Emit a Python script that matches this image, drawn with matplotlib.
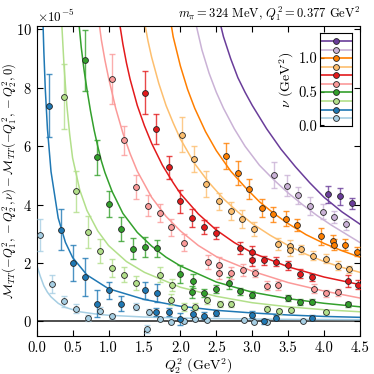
import numpy as np
import matplotlib
matplotlib.use("Agg")
import matplotlib.pyplot as plt

plt.rcParams["font.family"] = "serif"
plt.rcParams["font.serif"] = ["cmr10", "DejaVu Serif"]
plt.rcParams["mathtext.fontset"] = "cm"
plt.rcParams["axes.formatter.use_mathtext"] = True
plt.rcParams["font.size"] = 9

# nu values (GeV^2) and colours
nus = [0.108, 0.233, 0.36, 0.49, 0.61, 0.74, 0.87, 0.995, 1.12, 1.25]
colors = ["#a6cee3", "#1f78b4", "#b2df8a", "#33a02c", "#fb9a99",
          "#e31a1c", "#fdbf6f", "#ff7f00", "#cab2d6", "#6a3d9a"]

# lattice points (y in units of 1e-5)
px0 = [0.046, 0.209, 0.385, 0.553, 0.72, 0.883, 1.055, 1.386, 1.535, 1.558, 1.71, 1.875, 2.05, 2.21, 2.37, 2.88, 3.03, 3.2, 3.70]
py0 = [2.97, 1.29, 0.69, 0.44, 0.12, 0.37, 0.17, 0.51, -0.26, 0.32, 0.08, -0.01, 0.02, 0.07, 0.06, 0.06, -0.01, -0.01, 0.03]
pe0 = [0.55, 0.3, 0.18, 0.16, 0.1, 0.12, 0.1, 0.12, 0.15, 0.1, 0.08, 0.06, 0.06, 0.06, 0.05, 0.05, 0.05, 0.04, 0.04]

px1 = [0.176, 0.34, 0.51, 0.674, 0.846, 1.01, 1.175, 1.51, 1.665, 1.675, 1.835, 2.0, 2.17, 2.335, 2.50, 3.0, 3.16, 3.33, 3.83]
py1 = [7.39, 3.14, 2.0, 1.51, 0.61, 1.06, 0.61, 1.06, 0.32, 0.97, 0.32, 0.08, 0.25, 0.2, 0.29, 0.23, 0.0, 0.13, 0.13]
pe1 = [1.08, 0.7, 0.6, 0.65, 0.45, 0.3, 0.25, 0.3, 0.15, 0.3, 0.15, 0.2, 0.15, 0.12, 0.1, 0.12, 0.08, 0.08, 0.08]

px2 = [0.385, 0.55, 0.72, 0.883, 1.05, 1.22, 1.386, 1.72, 1.88, 1.875, 2.05, 2.21, 2.37, 2.55, 2.71, 3.21, 3.37, 3.54, 4.03]
py2 = [7.7, 4.45, 3.06, 2.41, 1.83, 1.6, 1.31, 1.6, 1.24, 0.75, 0.49, 0.5, 0.72, 0.6, 0.6, 0.44, 0.34, 0.39, 0.32]
pe2 = [1.1, 0.7, 0.55, 0.4, 0.3, 0.25, 0.25, 0.25, 0.2, 0.2, 0.15, 0.12, 0.12, 0.1, 0.1, 0.08, 0.08, 0.08, 0.08]

px3 = [0.674, 0.837, 1.01, 1.175, 1.34, 1.505, 1.67, 2.0, 2.18, 2.165, 2.335, 2.5, 2.67, 2.835, 3.0, 3.5, 3.665, 3.83, 4.33]
py3 = [8.94, 5.62, 4.01, 3.16, 2.49, 2.54, 2.5, 1.63, 1.38, 1.01, 0.97, 1.11, 1.32, 1.03, 0.92, 0.8, 0.66, 0.68, 0.58]
pe3 = [1.05, 0.6, 0.45, 0.4, 0.35, 0.35, 0.3, 0.3, 0.25, 0.2, 0.15, 0.15, 0.2, 0.12, 0.12, 0.1, 0.1, 0.1, 0.1]

px4 = [1.045, 1.215, 1.38, 1.55, 1.71, 1.875, 2.05, 2.38, 2.535, 2.54, 2.71, 2.875, 3.04, 3.2, 3.365, 3.865, 4.03, 4.195]
py4 = [8.3, 6.2, 4.6, 3.97, 3.71, 3.22, 2.7, 2.03, 1.94, 1.66, 1.66, 1.77, 1.66, 1.22, 1.24, 1.12, 0.96, 1.0]
pe4 = [0.85, 0.5, 0.4, 0.35, 0.3, 0.3, 0.3, 0.25, 0.25, 0.2, 0.2, 0.2, 0.15, 0.15, 0.15, 0.15, 0.12, 0.12]

px5 = [1.505, 1.665, 1.835, 2.0, 2.165, 2.335, 2.5, 2.83, 2.995, 3.0, 3.16, 3.33, 3.5, 3.67, 3.83, 4.33, 4.47]
py5 = [7.84, 6.59, 5.28, 4.11, 3.54, 3.23, 3.03, 2.51, 2.37, 2.1, 2.09, 2.05, 1.92, 1.63, 1.52, 1.39, 1.26]
pe5 = [0.72, 0.5, 0.4, 0.4, 0.3, 0.25, 0.2, 0.2, 0.2, 0.2, 0.15, 0.15, 0.15, 0.15, 0.12, 0.2, 0.15]

px6 = [2.02, 2.195, 2.36, 2.535, 2.70, 2.86, 3.02, 3.365, 3.53, 3.525, 3.685, 3.85, 4.02, 4.19, 4.35]
py6 = [6.39, 5.56, 4.7, 4.11, 3.79, 3.51, 3.16, 2.64, 2.59, 2.43, 2.47, 2.25, 2.15, 1.91, 1.79]
pe6 = [0.6, 0.45, 0.45, 0.3, 0.3, 0.3, 0.25, 0.2, 0.2, 0.2, 0.15, 0.15, 0.15, 0.15, 0.12]

px7 = [2.63, 2.80, 2.96, 3.13, 3.29, 3.47, 3.63, 3.96, 4.13, 4.135, 4.29, 4.46]
py7 = [5.67, 5.08, 4.54, 3.89, 3.67, 3.52, 3.3, 2.91, 2.75, 2.63, 2.63, 2.39]
pe7 = [0.45, 0.4, 0.35, 0.3, 0.25, 0.25, 0.2, 0.3, 0.2, 0.2, 0.2, 0.15]

px8 = [3.30, 3.48, 3.64, 3.805, 3.98, 4.14, 4.31]
py8 = [5.02, 4.65, 4.32, 3.96, 3.76, 3.57, 3.32]
pe8 = [0.45, 0.35, 0.3, 0.3, 0.25, 0.2, 0.2]

px9 = [4.055, 4.22, 4.385]
py9 = [4.35, 4.28, 4.04]
pe9 = [0.3, 0.28, 0.2]

# fitted curves
cx0 = [0.0, 0.05, 0.1, 0.15, 0.2, 0.3, 0.4, 0.6, 0.8, 1.0, 1.5, 2.0, 2.5, 3.0, 3.5, 4.0, 4.5]
cy0 = [1.94, 1.55, 1.22, 1.0, 0.84, 0.62, 0.48, 0.33, 0.26, 0.21, 0.15, 0.115, 0.095, 0.08, 0.07, 0.065, 0.06]
cx1 = [0.085, 0.1, 0.12, 0.15, 0.2, 0.3, 0.4, 0.5, 0.7, 1.0, 1.5, 2.0, 2.5, 3.0, 3.5, 4.0, 4.5]
cy1 = [10.5, 9.26, 7.97, 6.6, 5.13, 3.54, 2.71, 2.19, 1.59, 1.12, 0.75, 0.52, 0.38, 0.29, 0.22, 0.17, 0.14]
cx2 = [0.345, 0.38, 0.42, 0.46, 0.5, 0.6, 0.7, 0.85, 1.0, 1.25, 1.5, 2.0, 2.5, 3.0, 3.5, 4.0, 4.5]
cy2 = [10.4, 8.8, 7.4, 6.4, 5.6, 4.5, 3.8, 3.1, 2.6, 2.05, 1.68, 1.17, 0.86, 0.64, 0.5, 0.4, 0.33]
cx3 = [0.585, 0.62, 0.66, 0.7, 0.75, 0.8, 0.85, 0.9, 0.95, 1.05, 1.2, 1.4, 1.6, 1.8, 2.0, 2.5, 3.0, 3.5, 4.0, 4.5]
cy3 = [10.3, 9.4, 8.6, 7.95, 7.2, 6.55, 6.0, 5.5, 5.1, 4.45, 3.7, 3.05, 2.58, 2.2, 1.9, 1.35, 1.0, 0.78, 0.62, 0.5]
cx4 = [0.865, 0.9, 0.95, 1.0, 1.1, 1.2, 1.3, 1.4, 1.6, 1.8, 2.0, 2.25, 2.5, 3.0, 3.5, 4.0, 4.5]
cy4 = [10.3, 9.65, 8.95, 8.35, 7.3, 6.45, 5.75, 5.15, 4.25, 3.6, 3.1, 2.6, 2.22, 1.72, 1.33, 1.04, 0.8]
cx5 = [1.155, 1.2, 1.25, 1.3, 1.4, 1.5, 1.6, 1.75, 1.9, 2.0, 2.25, 2.5, 2.75, 3.0, 3.5, 4.0, 4.5]
cy5 = [10.2, 9.5, 8.85, 8.3, 7.4, 6.7, 6.1, 5.35, 4.75, 4.38, 3.68, 3.13, 2.7, 2.35, 1.87, 1.52, 1.26]
cx6 = [1.505, 1.55, 1.6, 1.7, 1.8, 1.9, 2.0, 2.2, 2.4, 2.6, 2.8, 3.0, 3.25, 3.5, 3.75, 4.0, 4.25, 4.5]
cy6 = [10.2, 9.6, 9.05, 8.15, 7.4, 6.8, 6.25, 5.4, 4.75, 4.2, 3.75, 3.35, 2.95, 2.6, 2.3, 2.05, 1.85, 1.68]
cx7 = [1.87, 1.9, 2.0, 2.1, 2.2, 2.35, 2.5, 2.7, 2.9, 3.1, 3.3, 3.5, 3.75, 4.0, 4.25, 4.5]
cy7 = [10.2, 9.75, 8.75, 7.95, 7.3, 6.5, 5.85, 5.15, 4.6, 4.1, 3.7, 3.35, 2.97, 2.67, 2.42, 2.2]
cx8 = [2.215, 2.3, 2.4, 2.5, 2.6, 2.75, 2.9, 3.1, 3.3, 3.5, 3.7, 3.9, 4.1, 4.3, 4.5]
cy8 = [10.2, 9.3, 8.5, 7.85, 7.3, 6.6, 6.0, 5.35, 4.85, 4.4, 4.0, 3.63, 3.3, 3.0, 2.7]
cx9 = [2.555, 2.6, 2.7, 2.8, 2.9, 3.0, 3.2, 3.4, 3.6, 3.8, 4.0, 4.25, 4.5]
cy9 = [10.2, 9.75, 9.0, 8.35, 7.85, 7.4, 6.6, 5.9, 5.3, 4.75, 4.25, 3.75, 3.33]

points = [(px0, py0, pe0), (px1, py1, pe1), (px2, py2, pe2), (px3, py3, pe3), (px4, py4, pe4),
          (px5, py5, pe5), (px6, py6, pe6), (px7, py7, pe7), (px8, py8, pe8), (px9, py9, pe9)]
curves = [(cx0, cy0), (cx1, cy1), (cx2, cy2), (cx3, cy3), (cx4, cy4),
          (cx5, cy5), (cx6, cy6), (cx7, cy7), (cx8, cy8), (cx9, cy9)]

scale = 1e-5

fig = plt.figure(figsize=(3.74, 3.74), dpi=100)
ax = fig.add_axes([0.098, 0.1016, 0.8646, 0.829])

ax.axhline(0, color="0.25", lw=1.3, zorder=1)

for (cx, cy), c in zip(curves, colors):
    ax.plot(cx, np.array(cy) * scale, color=c, lw=1.1, zorder=2)

for (x, y, e), c in zip(points, colors):
    ax.errorbar(x, np.array(y) * scale, yerr=np.array(e) * scale, fmt="none",
                ecolor=c, elinewidth=1.0, capsize=2.5, capthick=1.0, alpha=0.8, zorder=3)
    ax.plot(x, np.array(y) * scale, "o", mfc=c, mec="0.15", mew=0.6, ms=4.2, zorder=4)

ax.set_xlim(0, 4.5)
ax.set_ylim(-0.5e-5, 10.12e-5)
ax.set_xticks(np.arange(0, 4.51, 0.5))
ax.set_xticklabels(["%.1f" % t for t in np.arange(0, 4.51, 0.5)])
ax.set_yticks(np.arange(0, 10.1e-5, 2e-5))
ax.ticklabel_format(axis="y", style="sci", scilimits=(-5, -5))
ax.tick_params(direction="in", top=True, right=True, length=4, labelsize=10.5)
ax.yaxis.get_offset_text().set_fontsize(9.5)
ax.set_xlabel(r"$Q_2^2$ (GeV$^2$)", labelpad=1, fontsize=10)
ax.set_ylabel(r"$\mathcal{M}_{TT}(-Q_1^2,-Q_2^2,\nu)-\mathcal{M}_{TT}(-Q_1^2,-Q_2^2,0)$")
ax.yaxis.set_label_coords(-0.058, 0.5)
ax.set_title(r"$m_\pi = 324$ MeV, $Q_1^2 = 0.377$ GeV$^2$", loc="right", fontsize=9, pad=6)

# colour key for nu
lax = fig.add_axes([0.856, 0.663, 0.0856, 0.249])
for nu, c in zip(nus, colors):
    lax.axhline(nu, color=c, lw=1.2)
    lax.plot(0.5, nu, "o", mfc=c, mec="0.15", mew=0.6, ms=4.2)
lax.set_xlim(0, 1)
lax.set_ylim(-0.01, 1.37)
lax.set_xticks([])
lax.set_yticks([0.0, 0.5, 1.0])
lax.set_yticklabels(["0.0", "0.5", "1.0"])
lax.tick_params(direction="in", length=3, pad=2, labelsize=10.5)
lax.set_ylabel(r"$\nu$ (GeV$^2$)", labelpad=2, fontsize=10)

fig.savefig("out.png", dpi=100)
